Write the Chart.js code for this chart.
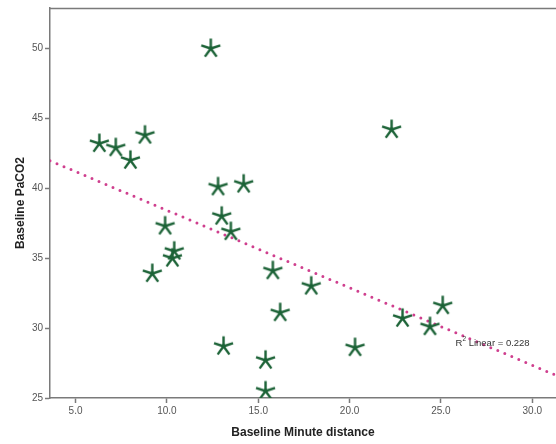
<!DOCTYPE html>
<html>
<head>
<meta charset="utf-8">
<style>
  html, body { margin: 0; padding: 0; background: #fff; }
  #wrap { width: 556px; height: 444px; }
</style>
<script src="https://cdn.jsdelivr.net/npm/chart.js@4.4.1/dist/chart.umd.min.js"></script>
</head>
<body>
<div id="wrap"><canvas id="chart" width="556" height="444"></canvas></div>
<script>
// Baseline minute distance vs baseline PaCO2, one entry per subject
const minuteDistance = [12.4, 6.3, 7.2, 8.8, 8.0, 22.3, 12.8, 14.2, 13.0, 13.5, 9.9, 10.4,
                        10.3, 9.2, 15.8, 17.9, 16.2, 13.1, 20.3, 15.4, 15.4, 22.9, 24.4, 25.1];
const paco2 = [50.0, 43.2, 42.9, 43.8, 42.0, 44.2, 40.1, 40.3, 38.0, 36.9, 37.3, 35.5,
               35.0, 33.9, 34.1, 33.0, 31.1, 28.7, 28.6, 27.7, 25.5, 30.7, 30.1, 31.6];
const xTicks = [5, 10, 15, 20, 25, 30];
const yTicks = [25, 30, 35, 40, 45, 50];
const xRange = [3.6, 31.3];
const yRange = [25, 52.9];
const fitLabel = 'Linear = 0.228';

const FONT = '"Liberation Sans", Arial, sans-serif';
const GREEN = '#1b6236';
const PINK = '#cf3f8e';
const AXIS = '#7a7a7a';

// Ordinary least squares fit of PaCO2 on minute distance
function linearFit(xs, ys) {
  const n = xs.length;
  const mx = xs.reduce((a, b) => a + b, 0) / n;
  const my = ys.reduce((a, b) => a + b, 0) / n;
  let sxy = 0, sxx = 0;
  for (let i = 0; i < n; i++) {
    sxy += (xs[i] - mx) * (ys[i] - my);
    sxx += (xs[i] - mx) * (xs[i] - mx);
  }
  const slope = sxy / sxx;
  return { slope, intercept: my - slope * mx };
}
const fit = linearFit(minuteDistance, paco2);
const fitPoints = xRange.map(x => ({ x, y: fit.intercept + fit.slope * x }));

// Five-armed asterisk marker
function makeAsterisk(radius, width, color) {
  const c = document.createElement('canvas');
  const size = Math.ceil(radius * 2 + width * 2);
  c.width = size; c.height = size;
  const g = c.getContext('2d');
  g.strokeStyle = color;
  g.lineWidth = width;
  g.lineCap = 'butt';
  g.translate(size / 2, size / 2);
  g.beginPath();
  for (let k = 0; k < 5; k++) {
    const a = -Math.PI / 2 + k * 2 * Math.PI / 5;
    g.moveTo(0, 0);
    g.lineTo(Math.cos(a) * radius, Math.sin(a) * radius);
  }
  g.stroke();
  return c;
}
const marker = makeAsterisk(10, 2.4, GREEN);

const points = minuteDistance.map((x, i) => ({ x, y: paco2[i] }));

// Frame line along the top edge of the plot area plus the fit annotation
const framePlugin = {
  id: 'frame',
  afterDraw(chart) {
    const { ctx, chartArea, scales } = chart;
    ctx.save();
    ctx.strokeStyle = AXIS;
    ctx.lineWidth = 1.5;
    ctx.beginPath();
    ctx.moveTo(chartArea.left, chartArea.top + 0.5);
    ctx.lineTo(chartArea.right, chartArea.top + 0.5);
    ctx.stroke();

    const tx = scales.x.getPixelForValue(25.8);
    const ty = scales.y.getPixelForValue(28.9);
    ctx.fillStyle = '#333';
    ctx.textBaseline = 'middle';
    ctx.textAlign = 'left';
    ctx.font = '9.5px ' + FONT;
    ctx.fillText('R', tx, ty);
    const rw = ctx.measureText('R').width;
    ctx.font = '6.5px ' + FONT;
    ctx.fillText('2', tx + rw, ty - 4);
    const sw = ctx.measureText('2').width;
    ctx.font = '9.5px ' + FONT;
    ctx.fillText(' ' + fitLabel, tx + rw + sw, ty);
    ctx.restore();
  }
};

new Chart(document.getElementById('chart'), {
  type: 'scatter',
  data: {
    datasets: [
      {
        label: 'Subjects',
        data: points,
        pointStyle: marker,
        pointRadius: 10,
        pointHoverRadius: 10,
        order: 1
      },
      {
        type: 'line',
        label: 'Linear fit',
        data: fitPoints,
        borderColor: PINK,
        borderWidth: 3,
        borderDash: [0, 7.6],
        borderCapStyle: 'round',
        pointRadius: 0,
        fill: false,
        order: 2
      }
    ]
  },
  options: {
    responsive: false,
    animation: false,
    events: [],
    layout: { autoPadding: false, padding: { top: 6, right: 0, left: 0, bottom: 0 } },
    plugins: {
      legend: { display: false },
      tooltip: { enabled: false }
    },
    scales: {
      x: {
        type: 'linear',
        min: xRange[0],
        max: xRange[1],
        afterBuildTicks(scale) { scale.ticks = xTicks.map(v => ({ value: v })); },
        afterFit(scale) { scale.height = 46; },
        grid: { drawOnChartArea: false, drawTicks: true, tickLength: 5, tickColor: AXIS, tickWidth: 1.5 },
        border: { display: true, color: AXIS, width: 1.5 },
        ticks: {
          color: '#555',
          font: { family: FONT, size: 10 },
          padding: 2,
          maxRotation: 0,
          callback: v => v.toFixed(1)
        },
        title: {
          display: true,
          text: 'Baseline Minute distance',
          color: '#222',
          font: { family: FONT, size: 12, weight: 'bold' },
          padding: { top: 0, bottom: 4 }
        }
      },
      y: {
        type: 'linear',
        min: yRange[0],
        max: yRange[1],
        afterBuildTicks(scale) { scale.ticks = yTicks.map(v => ({ value: v })); },
        afterFit(scale) { scale.width = 50; },
        grid: { drawOnChartArea: false, drawTicks: true, tickLength: 5, tickColor: AXIS, tickWidth: 1.5 },
        border: { display: true, color: AXIS, width: 1.5 },
        ticks: {
          color: '#555',
          font: { family: FONT, size: 10 },
          padding: 2,
          callback: v => String(v)
        },
        title: {
          display: true,
          text: 'Baseline PaCO2',
          color: '#222',
          font: { family: FONT, size: 12, weight: 'bold' },
          padding: { top: 13, bottom: 0 }
        }
      }
    }
  },
  plugins: [framePlugin]
});
</script>
</body>
</html>
